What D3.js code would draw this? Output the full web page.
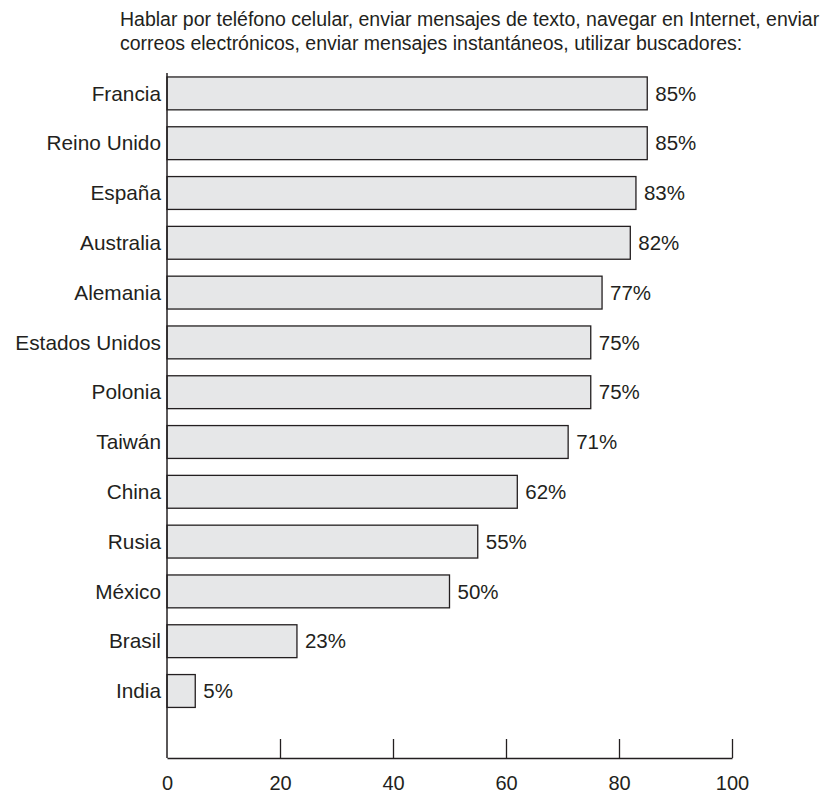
<!DOCTYPE html>
<html>
<head>
<meta charset="utf-8">
<script src="https://cdn.jsdelivr.net/npm/d3@7"></script>
<style>
  html, body { margin: 0; padding: 0; background: #fff; }
  svg text { font-family: "Liberation Sans", Arial, Helvetica, sans-serif; fill: #231f20; }
</style>
</head>
<body>
<svg id="chart" width="829" height="794"></svg>
<script>
const titleLines = [
  "Hablar por teléfono celular, enviar mensajes de texto, navegar en Internet, enviar",
  "correos electrónicos, enviar mensajes instantáneos, utilizar buscadores:"
];
const countries = ["Francia", "Reino Unido", "España", "Australia", "Alemania", "Estados Unidos", "Polonia", "Taiwán", "China", "Rusia", "México", "Brasil", "India"];
const values = [85, 85, 83, 82, 77, 75, 75, 71, 62, 55, 50, 23, 5];
const xTicks = [0, 20, 40, 60, 80, 100];

const svg = d3.select("#chart");
const ink = "#231f20";

const x = d3.scaleLinear().domain([0, 100]).range([167, 732]);
const y = d3.scaleBand().domain(countries).range([68.5, 715.9]).paddingInner(0.34).paddingOuter(0.17);

const axisTop = 73, axisBottom = 758;

// title
svg.append("g").selectAll("text").data(titleLines).join("text")
  .attr("x", 120).attr("y", (d, i) => 26 + i * 24)
  .attr("font-size", 19.5)
  .text(d => d);

// bars
svg.append("g").selectAll("rect").data(values).join("rect")
  .attr("x", x(0))
  .attr("y", (d, i) => y(countries[i]))
  .attr("width", d => x(d) - x(0))
  .attr("height", y.bandwidth())
  .attr("fill", "#e6e7e8")
  .attr("stroke", ink)
  .attr("stroke-width", 1.3);

// value labels
svg.append("g").selectAll("text").data(values).join("text")
  .attr("x", d => x(d) + 8)
  .attr("y", (d, i) => y(countries[i]) + y.bandwidth() / 2)
  .attr("dy", "0.35em")
  .attr("font-size", 20.5)
  .text(d => d + "%");

// category labels
svg.append("g").selectAll("text").data(countries).join("text")
  .attr("x", 161)
  .attr("y", d => y(d) + y.bandwidth() / 2)
  .attr("dy", "0.35em")
  .attr("text-anchor", "end")
  .attr("font-size", 20.8)
  .text(d => d);

// vertical axis line
svg.append("line")
  .attr("x1", x(0)).attr("x2", x(0))
  .attr("y1", axisTop).attr("y2", axisBottom)
  .attr("stroke", ink).attr("stroke-width", 1.5);

// bottom axis
const xAxis = d3.axisBottom(x).tickValues(xTicks).tickSizeInner(-19).tickSizeOuter(0).tickPadding(18);
const gx = svg.append("g").attr("transform", `translate(0,${axisBottom})`).call(xAxis);
gx.select(".domain").attr("stroke", ink).attr("stroke-width", 1.5);
gx.selectAll(".tick line").attr("stroke", ink).attr("stroke-width", 1.3);
gx.selectAll(".tick").filter(d => d === 0).select("line").remove();
gx.selectAll(".tick text").attr("font-size", 20).attr("font-family", "'Liberation Sans', Arial, sans-serif").attr("fill", ink);
</script>
</body>
</html>
